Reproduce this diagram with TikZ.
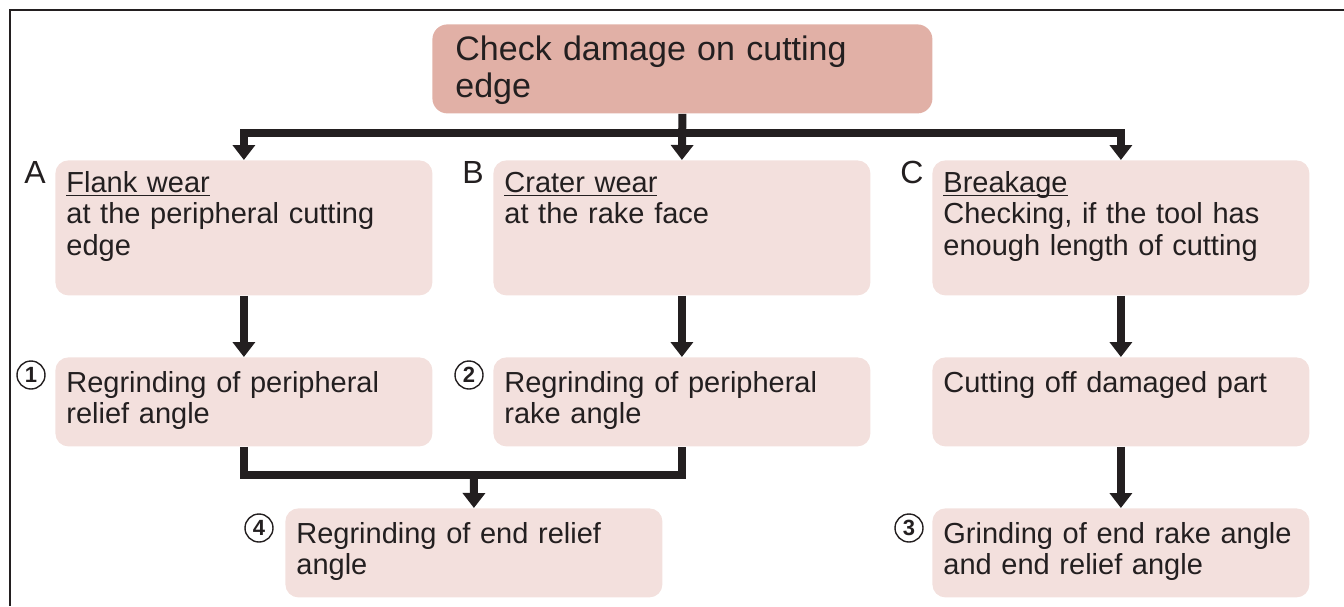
\documentclass[tikz,border=0pt]{standalone}
\usepackage{fontspec}
\setmainfont{Liberation Sans}
\usetikzlibrary{arrows.meta}
\definecolor{ink}{HTML}{231F20}
\definecolor{headfill}{HTML}{E1B0A6}
\definecolor{boxfill}{HTML}{F3E0DD}
\newcommand{\topic}[1]{\underline{\smash{#1}}}
\tikzset{
    head/.style={fill=headfill, rounded corners=7.5pt, anchor=north west, align=left, text width=227pt, inner xsep=11.5pt, inner ysep=4pt, text height=14pt, text depth=22.5pt, text=ink, font=\fontsize{17}{18.5}\selectfont},
    stage/.style={fill=boxfill, rounded corners=6.5pt, anchor=north west, align=left, text width=177.5pt, inner xsep=5.5pt, inner ysep=4pt, text=ink, font=\fontsize{14.5}{15.75}\selectfont},
    tall/.style={stage, text height=12pt, text depth=47.5pt},
    short/.style={stage, text height=13.5pt, text depth=23pt},
    tag/.style={anchor=base, inner sep=0pt, text=ink, font=\fontsize{16}{18}\selectfont},
    num/.style={circle, draw=ink, line width=0.7pt, inner sep=0pt, minimum size=14pt, text=ink, font=\fontsize{11}{12}\selectfont\bfseries},
    link/.style={draw=ink, line width=4pt},
    flow/.style={link, -{Triangle[length=7.5pt, width=11pt]}}
}
\begin{document}
\begin{tikzpicture}[x=0.5pt, y=-0.5pt]
    \useasboundingbox (0,0) rectangle (1344,606);
    \draw[ink, line width=1.3pt] (1344,10) -- (10,10) -- (10,606);
    \node[head] (check) at (432,24) {Check damage on cutting\\edge};
    \node[tall] (flank) at (55,160) {\topic{Flank wear}\\at the peripheral cutting\\edge};
    \node[tall] (crater) at (493,160) {\topic{Crater wear}\\at the rake face};
    \node[tall] (breakage) at (932,160) {\topic{Breakage}\\Checking, if the tool has\\enough length of cutting};
    \node[short] (relief) at (55,357) {Regrinding of peripheral\\relief angle};
    \node[short] (rake) at (493,357) {Regrinding of peripheral\\rake angle};
    \node[short] (cutoff) at (932,357) {Cutting off damaged part};
    \node[short] (endrelief) at (285,508) {Regrinding of end relief\\angle};
    \node[short] (endgrind) at (932,508) {Grinding of end rake angle\\and end relief angle};
    \node[tag] (labA) at (35,183) {A};
    \node[tag] (labB) at (473,183) {B};
    \node[tag] (labC) at (912,183) {C};
    \node[num] (n1) at (31,375) {1};
    \node[num] (n2) at (469,375) {2};
    \node[num] (n3) at (909,528) {3};
    \node[num] (n4) at (259,528) {4};
    \coordinate (split) at (682,133);
    \coordinate (join) at (474,475);
    \draw[flow] (check.south) -- (crater.north);
    \draw[flow] (split) -| (flank.north);
    \draw[flow] (split) -| (breakage.north);
    \draw[flow] (flank.south) -- (relief.north);
    \draw[flow] (crater.south) -- (rake.north);
    \draw[flow] (breakage.south) -- (cutoff.north);
    \draw[link] (relief.south) |- (join) -| (rake.south);
    \draw[flow] (join) -- (endrelief.north);
    \draw[flow] (cutoff.south) -- (endgrind.north);
\end{tikzpicture}
\end{document}
